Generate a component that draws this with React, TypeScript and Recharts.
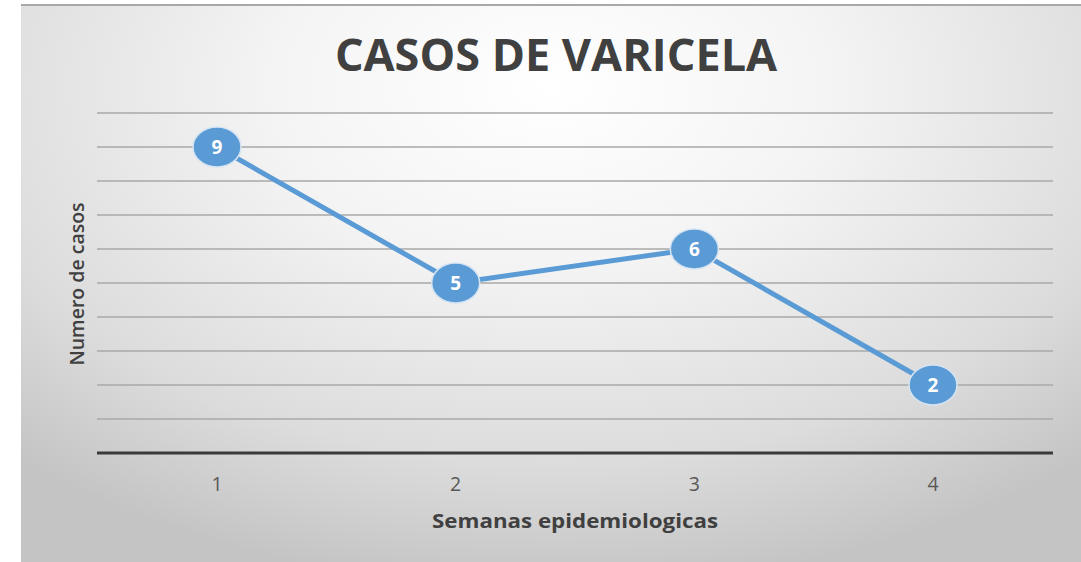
import { CartesianGrid, Label, Line, LineChart, XAxis, YAxis } from "recharts";

const semanas = ["1", "2", "3", "4"];
const casos = [9, 5, 6, 2];
const gridTicks = [0, 1, 2, 3, 4, 5, 6, 7, 8, 9, 10];

const data = semanas.map((semana, i) => ({ semana, casos: casos[i] }));

const font = "'Open Sans', 'Noto Sans', sans-serif";

const renderDot = (props: any) => {
  const { cx, cy, value, index } = props;
  return (
    <g key={`dot-${index}`}>
      <ellipse cx={cx} cy={cy} rx={24} ry={20} fill="#5B9BD5" stroke="#d6e4f3" strokeWidth={1.5} />
      <text x={cx} y={cy} dy="0.36em" textAnchor="middle" fill="#ffffff" fontWeight={700} fontSize={19} fontFamily={font}>
        {value}
      </text>
    </g>
  );
};

// axis title stretched a bit wider, like the source image
const renderXTitle = (props: any) => {
  const { viewBox } = props;
  const cx = viewBox.x + viewBox.width / 2;
  const y = viewBox.y + viewBox.height + 15;
  return (
    <text
      x={cx}
      y={y}
      textAnchor="middle"
      fill="#404040"
      fontSize={19}
      fontWeight={700}
      fontFamily={font}
      textLength={286}
      lengthAdjust="spacingAndGlyphs"
    >
      Semanas epidemiologicas
    </text>
  );
};

export default function App() {
  return (
    <div style={{ position: "absolute", left: 0, top: 0, width: 1081, height: 562, background: "#ffffff", overflow: "hidden" }}>
      <div
        style={{
          position: "absolute",
          left: 21,
          top: 4,
          width: 1060,
          height: 558,
          background: "radial-gradient(ellipse 75% 90% at 50% 15%, #ffffff 0%, #f4f4f4 35%, #dcdcdc 75%, #c4c4c4 100%)",
          boxShadow: "inset 0 2px 0 #a8a8a8"
        }}
      >
        <div
          style={{
            position: "absolute",
            left: 0,
            top: 25,
            width: 1070,
            textAlign: "center",
            fontFamily: font,
            fontWeight: 700,
            fontSize: 45,
            color: "#404040",
            lineHeight: "50px"
          }}
        >
          CASOS DE VARICELA
        </div>
        <div
          style={{
            position: "absolute",
            left: 56 - 100,
            top: 280 - 13,
            width: 200,
            height: 26,
            lineHeight: "26px",
            textAlign: "center",
            transform: "rotate(-90deg)",
            fontFamily: font,
            fontWeight: 600,
            fontSize: 19.5,
            color: "#404040"
          }}
        >
          Numero de casos
        </div>
        <LineChart width={1060} height={558} data={data} margin={{ top: 109, right: 28, bottom: 49, left: 76 }}>
          <CartesianGrid horizontal vertical={false} stroke="#a9a9a9" strokeWidth={1.5} />
          <XAxis
            dataKey="semana"
            height={60}
            padding={{ left: 120, right: 120 }}
            axisLine={{ stroke: "#3a3a3a", strokeWidth: 3 }}
            tickLine={false}
            tickSize={0}
            tickMargin={24}
            tick={{ fill: "#595959", fontSize: 19.5, fontFamily: font }}
          >
            <Label position="bottom" content={renderXTitle} />
          </XAxis>
          <YAxis hide domain={[0, 10]} ticks={gridTicks} />
          <Line
            type="linear"
            dataKey="casos"
            stroke="#5B9BD5"
            strokeWidth={5}
            dot={renderDot}
            activeDot={false}
            isAnimationActive={false}
          />
        </LineChart>
      </div>
    </div>
  );
}
